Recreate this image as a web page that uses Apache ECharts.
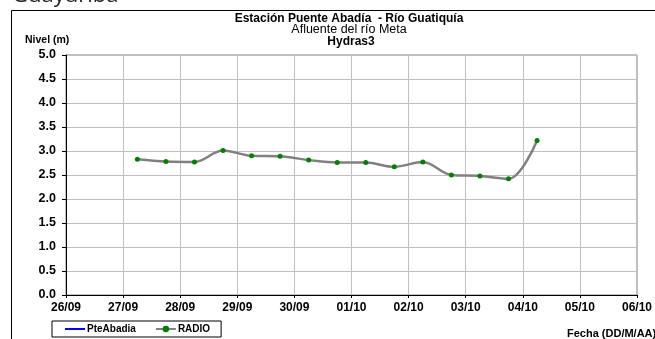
<!DOCTYPE html>
<html><head><meta charset="utf-8">
<script src="https://cdn.jsdelivr.net/npm/echarts@6/dist/echarts.min.js"></script>
<style>html,body{margin:0;padding:0;background:#fff}#c{width:655px;height:339px}</style>
</head><body><div id="c"></div>
<script>
// Data
const radioDates = ['2023-09-27 06:00','2023-09-27 18:00','2023-09-28 06:00','2023-09-28 18:00','2023-09-29 06:00','2023-09-29 18:00','2023-09-30 06:00','2023-09-30 18:00','2023-10-01 06:00','2023-10-01 18:00','2023-10-02 06:00','2023-10-02 18:00','2023-10-03 06:00','2023-10-03 18:00','2023-10-04 06:00'];
const radioValues = [2.83,2.78,2.77,3.01,2.90,2.89,2.81,2.76,2.76,2.67,2.77,2.50,2.48,2.42,3.22];
const pteAbadiaValues = [];
const xMinDate = '2023-09-26 00:00';
const xMaxDate = '2023-10-06 00:00';
const yTicks = [0,0.5,1,1.5,2,2.5,3,3.5,4,4.5,5];
const seriesNames = ['PteAbadia','RADIO'];

function toUTC(s){const [d,t]=s.split(' ');const [Y,M,D]=d.split('-').map(Number);const [h,m]=t.split(':').map(Number);return Date.UTC(Y,M-1,D,h,m);}
const DAY = 86400000;
const chart = echarts.init(document.getElementById('c'), null, {renderer:'canvas'});
const F = 'Liberation Sans, Arial, sans-serif';
chart.setOption({
  animation:false,
  backgroundColor:'#fff',
  grid:{left:66, top:55, right:18, bottom:44, show:true, borderColor:'#808080', borderWidth:1},
  xAxis:{type:'value', min:toUTC(xMinDate), max:toUTC(xMaxDate), interval:DAY,
    axisLine:{show:true, onZero:false, lineStyle:{color:'#000', width:1}},
    axisTick:{show:true, length:3, lineStyle:{color:'#000'}},
    splitLine:{show:true, lineStyle:{color:'#c0c0c0', width:1}},
    axisLabel:{fontFamily:F, fontWeight:'bold', fontSize:12, color:'#000', margin:7,
      formatter:v=>{const d=new Date(v);return String(d.getUTCDate()).padStart(2,'0')+'/'+String(d.getUTCMonth()+1).padStart(2,'0');}}},
  yAxis:{type:'value', min:yTicks[0], max:yTicks[yTicks.length-1], interval:yTicks[1]-yTicks[0],
    axisLine:{show:true, lineStyle:{color:'#000', width:1}},
    axisTick:{show:true, length:4, lineStyle:{color:'#000'}},
    splitLine:{show:true, lineStyle:{color:'#c0c0c0', width:1}},
    axisLabel:{fontFamily:F, fontWeight:'bold', fontSize:12.5, color:'#000', margin:10, formatter:v=>v.toFixed(1)}},
  legend:{left:52, top:321, orient:'horizontal', borderColor:'#000', borderWidth:1, padding:[3,11,3,13], itemGap:19,
    itemWidth:20, itemHeight:8, textStyle:{fontFamily:F, fontWeight:'bold', fontSize:10, color:'#000', padding:[0,0,0,-3]},
    data:[{name:seriesNames[0], icon:'path://M0,4L20,4L20,6L0,6Z', itemStyle:{color:'#0000ff'}}, {name:seriesNames[1]}]},
  series:[
    {name:seriesNames[0], type:'line', data:pteAbadiaValues, symbol:'none', lineStyle:{color:'#0000ff', width:2}, itemStyle:{color:'#0000ff'}},
    {name:seriesNames[1], type:'line', data:radioDates.map((d,i)=>[toUTC(d), radioValues[i]]), smooth:0.35,
      symbol:'circle', symbolSize:5, lineStyle:{color:'#808080', width:2.5}, itemStyle:{color:'#008000', borderWidth:0}, z:3}
  ],
  graphic:[
    {type:'rect', shape:{x:11.5, y:10.5, width:700, height:400}, style:{fill:'none', stroke:'#000', lineWidth:1}, silent:true},
    {type:'text', left:12, top:-15, style:{text:'Guayuriba', font:'22px "Open Sans", sans-serif', fill:'#222'}},
    {type:'text', x:349, y:18.5, style:{text:'Estación Puente Abadía  - Río Guatiquía', font:'bold 12px '+F, fill:'#000', align:'center', verticalAlign:'middle'}},
    {type:'text', x:349, y:30, style:{text:'Afluente del río Meta', font:'12.5px '+F, fill:'#000', align:'center', verticalAlign:'middle'}},
    {type:'text', x:351, y:41.5, style:{text:'Hydras3', font:'bold 12px '+F, fill:'#000', align:'center', verticalAlign:'middle'}},
    {type:'text', x:25, y:40, style:{text:'Nivel (m)', font:'bold 10.5px '+F, fill:'#000', verticalAlign:'middle'}},
    {type:'text', x:567, y:334, style:{text:'Fecha (DD/M/AA)', font:'bold 11px '+F, fill:'#000', verticalAlign:'middle'}}
  ]
});
</script></body></html>
